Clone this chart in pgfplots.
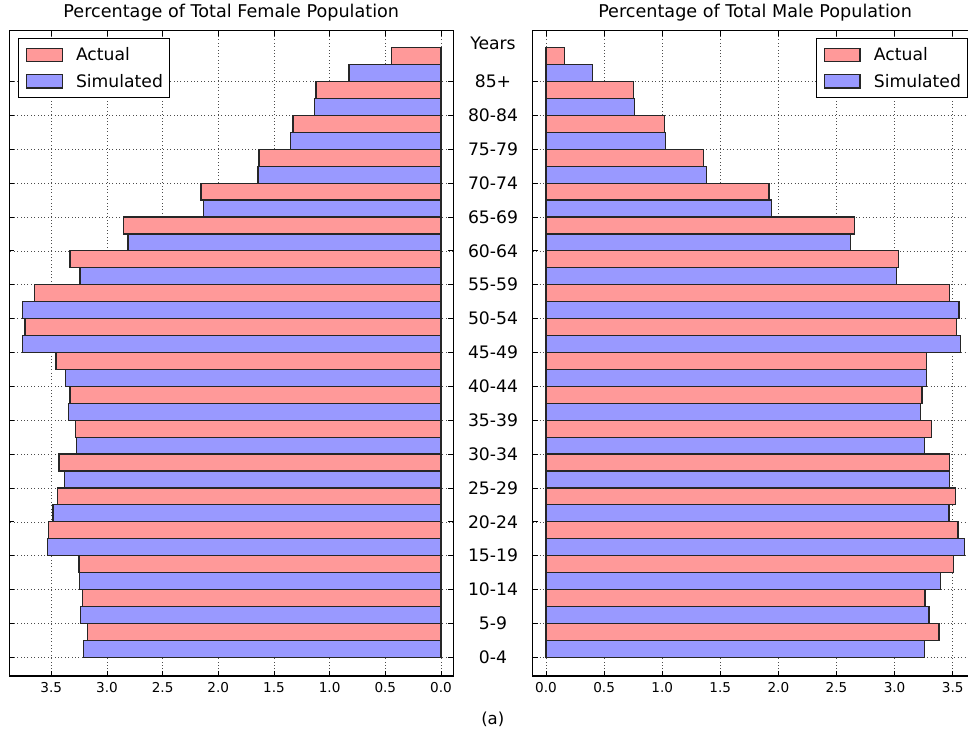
\documentclass[border=0pt]{standalone}
\usepackage{fontspec}
\setmainfont{DejaVu Sans}
\usepackage{pgfplots}
\usepackage{pgfplotstable}
\pgfplotsset{compat=1.18}
\definecolor{barred}{RGB}{255,153,153}
\definecolor{barblue}{RGB}{153,153,255}
% ys = y of simulated bar, ya = y of actual bar
\pgfplotstableread{
ys    ya    fa     fs     ma     ms
0.25  0.75  3.176  3.212  3.382  3.256
1.25  1.75  3.221  3.239  3.262  3.296
2.25  2.75  3.251  3.245  3.505  3.393
3.25  3.75  3.527  3.533  3.546  3.600
4.25  4.75  3.443  3.485  3.523  3.468
5.25  5.75  3.431  3.380  3.471  3.471
6.25  6.75  3.284  3.275  3.319  3.259
7.25  7.75  3.332  3.344  3.236  3.222
8.25  8.75  3.458  3.371  3.273  3.273
9.25  9.75  3.736  3.760  3.531  3.569
10.25 10.75 3.649  3.757  3.471  3.554
11.25 11.75 3.332  3.242  3.032  3.015
12.25 12.75 2.850  2.811  2.653  2.622
13.25 13.75 2.156  2.131  1.919  1.939
14.25 14.75 1.635  1.644  1.357  1.380
15.25 15.75 1.329  1.353  1.018  1.027
16.25 16.75 1.123  1.138  0.754  0.760
17.25 17.75 0.443  0.826  0.158  0.399
}\datatable
\newcommand{\bigf}{\fontsize{17.2}{20}\selectfont}
\newcommand{\titf}{\fontsize{17.6}{20}\selectfont}
\newcommand{\smallf}{\fontsize{13.6}{16}\selectfont}
\pgfplotsset{
  pyr/.style={
    scale only axis, height=645.3pt,
    xbar, bar width=0.5, bar shift=0pt,
    ymin=-0.552, ymax=18.5,
    ytick={0,...,17},
    xtick={0,0.5,...,3.5},
    tick align=inside, major tick length=5pt,
    tick style={black, line width=0.8pt},
    axis line style={black, line width=1.2pt},
    grid=major,
    major grid style={draw=black!70, line width=0.6pt, dash pattern=on 0.8pt off 2.6pt},
    /pgf/number format/assume math mode=true,
    xticklabel style={font=\smallf, inner sep=0pt, anchor=north, yshift=-6.7pt,
      /pgf/number format/.cd, fixed, fixed zerofill, precision=1},
    title style={font=\titf, at={(0.5,1)}, anchor=base, yshift=7.4pt},
    legend style={draw=black, line width=1pt, font=\bigf,
      inner xsep=7pt, inner ysep=9pt, nodes={inner sep=0pt},
      column sep=13.3pt, row sep=11.7pt, cells={anchor=west}},
  },
  barA/.style={draw=black!85, line width=1.2pt, fill=barred,
    legend image code/.code={\draw[draw=black!85, line width=1.2pt, fill=barred] (0pt,-6.65pt) rectangle (35.7pt,6.65pt);}},
  barS/.style={draw=black!85, line width=1.2pt, fill=barblue,
    legend image code/.code={\draw[draw=black!85, line width=1.2pt, fill=barblue] (0pt,-6.65pt) rectangle (35.7pt,6.65pt);}},
}
\begin{document}
\begin{tikzpicture}
\useasboundingbox (0,0) rectangle (968pt,731pt);
\clip (0,0) rectangle (968pt,731pt);
\begin{axis}[pyr,
  at={(9.33pt,55pt)}, anchor=south west,
  width=443.9pt,
  x dir=reverse, xmin=-0.11, xmax=3.877,
  yticklabel=\empty,
  title={Percentage of Total Female Population},
  legend style={at={(0,1)}, anchor=north west, xshift=9pt, yshift=-7.6pt},
]
\addplot[barA] table[x=fa, y=ya] {\datatable};
\addlegendentry{Actual}
\addplot[barS] table[x=fs, y=ys] {\datatable};
\addlegendentry{Simulated}
\end{axis}
\begin{axis}[pyr,
  at={(532.7pt,55pt)}, anchor=south west,
  width=444.7pt,
  xmin=-0.1145, xmax=3.713,
  yticklabels={0-4,5-9,10-14,15-19,20-24,25-29,30-34,35-39,40-44,45-49,50-54,55-59,60-64,65-69,70-74,75-79,80-84,85+},
  yticklabel style={font=\bigf, anchor=center, inner sep=0pt, xshift=-39.7pt},
  extra y ticks={18}, extra y tick labels={Years},
  extra y tick style={grid=none, tick style={draw=none}, yticklabel style={yshift=4.4pt}},
  title={Percentage of Total Male Population},
  legend style={at={(1,1)}, anchor=north east, xshift=-9pt, yshift=-7.6pt},
]
\addplot[barA] table[x=ma, y=ya] {\datatable};
\addlegendentry{Actual}
\addplot[barS] table[x=ms, y=ys] {\datatable};
\addlegendentry{Simulated}
\end{axis}
\node[font=\fontsize{16.5}{19}\selectfont, anchor=center] at (492.8pt,11.5pt) {(a)};
\end{tikzpicture}
\end{document}
